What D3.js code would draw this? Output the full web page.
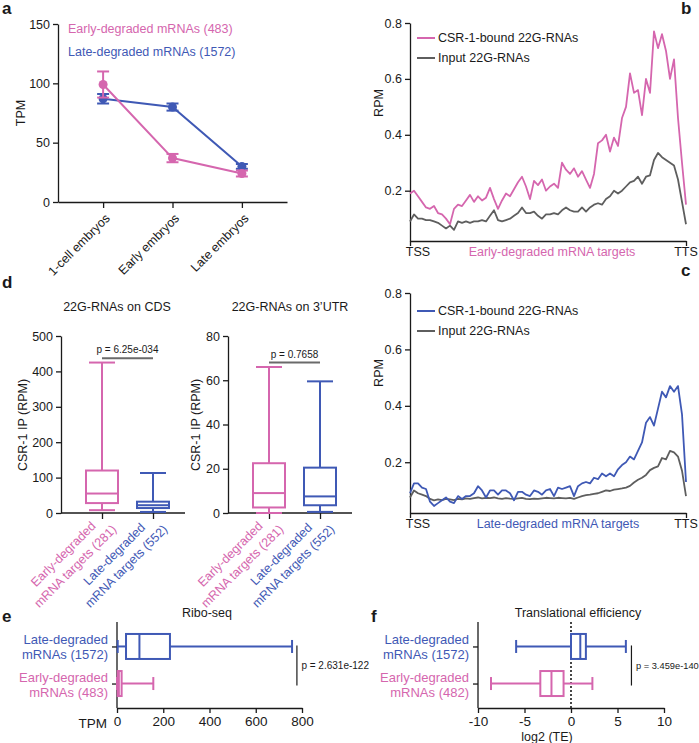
<!DOCTYPE html>
<html>
<head>
<meta charset="utf-8">
<script src="https://cdn.jsdelivr.net/npm/d3@7"></script>
<style>
  body { margin: 0; background: #fff; }
  svg { display: block; font-family: "Liberation Sans", Arial, sans-serif; }
</style>
</head>
<body>
<div id="chart"></div>
<script>
// ---- data ----
const stages = ["1-cell embryos", "Early embryos", "Late embryos"];
const earlyTPM = [99, 37, 24];
const earlyTPMErr = [11, 3.5, 2.5];
const lateTPM = [87, 80, 30];
const lateTPMErr = [4, 3, 2];

// metagene profiles TSS -> TTS (70 bins)
const earlyCSR = [0.19, 0.20, 0.18, 0.16, 0.14, 0.135, 0.145, 0.12, 0.115, 0.10,
  0.08, 0.135, 0.15, 0.145, 0.165, 0.185, 0.16, 0.18, 0.165, 0.175,
  0.21, 0.17, 0.135, 0.165, 0.19, 0.18, 0.205, 0.23, 0.25, 0.215,
  0.17, 0.235, 0.22, 0.24, 0.20, 0.215, 0.225, 0.21, 0.30, 0.275,
  0.26, 0.28, 0.25, 0.27, 0.24, 0.21, 0.26, 0.37, 0.38, 0.40,
  0.34, 0.39, 0.36, 0.46, 0.50, 0.62, 0.55, 0.56, 0.47, 0.60,
  0.55, 0.77, 0.71, 0.76, 0.70, 0.60, 0.67, 0.46, 0.30, 0.15];
const earlyInput = [0.09, 0.115, 0.10, 0.10, 0.095, 0.095, 0.09, 0.085, 0.075, 0.065,
  0.075, 0.06, 0.09, 0.085, 0.09, 0.085, 0.09, 0.09, 0.095, 0.09,
  0.11, 0.13, 0.095, 0.09, 0.095, 0.10, 0.11, 0.12, 0.14, 0.12,
  0.12, 0.125, 0.11, 0.10, 0.115, 0.115, 0.12, 0.115, 0.13, 0.14,
  0.13, 0.125, 0.125, 0.14, 0.125, 0.14, 0.15, 0.155, 0.15, 0.17,
  0.18, 0.20, 0.19, 0.20, 0.215, 0.23, 0.235, 0.25, 0.225, 0.25,
  0.255, 0.31, 0.335, 0.32, 0.31, 0.30, 0.29, 0.24, 0.16, 0.08];
const lateCSR = [0.09, 0.125, 0.125, 0.11, 0.105, 0.06, 0.045, 0.055, 0.065, 0.075,
  0.06, 0.055, 0.08, 0.07, 0.08, 0.08, 0.09, 0.115, 0.10, 0.075,
  0.10, 0.10, 0.085, 0.10, 0.10, 0.09, 0.065, 0.095, 0.095, 0.085,
  0.08, 0.10, 0.095, 0.085, 0.10, 0.105, 0.08, 0.11, 0.105, 0.11,
  0.115, 0.08, 0.115, 0.125, 0.13, 0.125, 0.145, 0.14, 0.16, 0.15,
  0.16, 0.15, 0.175, 0.19, 0.20, 0.22, 0.21, 0.24, 0.27, 0.34,
  0.36, 0.33, 0.39, 0.45, 0.43, 0.47, 0.45, 0.47, 0.37, 0.13];
const lateInput = [0.075, 0.10, 0.09, 0.085, 0.08, 0.07, 0.065, 0.068, 0.066, 0.07,
  0.068, 0.066, 0.07, 0.068, 0.072, 0.07, 0.073, 0.075, 0.072, 0.074,
  0.073, 0.075, 0.072, 0.07, 0.073, 0.071, 0.07, 0.072, 0.074, 0.07,
  0.069, 0.071, 0.07, 0.072, 0.074, 0.073, 0.072, 0.074, 0.073, 0.072,
  0.074, 0.07, 0.075, 0.08, 0.083, 0.085, 0.088, 0.09, 0.095, 0.10,
  0.098, 0.103, 0.105, 0.107, 0.11, 0.116, 0.128, 0.138, 0.145, 0.155,
  0.172, 0.18, 0.185, 0.215, 0.21, 0.24, 0.235, 0.22, 0.17, 0.08];

// box stats: [min, q1, median, q3, max]
const targetGroups = ["early", "late"];
const targetLabels = [["Early-degraded", "mRNA targets (281)"], ["Late-degraded", "mRNA targets (552)"]];
const cdsBoxes = [[8, 28, 55, 120, 425], [3, 14, 22, 32, 113]];
const utrBoxes = [[0, 2.5, 9, 22.5, 66], [0.5, 3.5, 7.5, 20.5, 59.5]];

const rowGroups = ["late", "early"];
const riboLabels = [["Late-degraded", "mRNAs (1572)"], ["Early-degraded", "mRNAs (483)"]];
const riboBoxes = [[3, 39, 97, 229, 757], [0, 3, 8, 20, 157]];
const teLabels = [["Late-degraded", "mRNAs (1572)"], ["Early-degraded", "mRNAs (482)"]];
const teBoxes = [[-5.9, 0, 1, 1.6, 5.9], [-8.6, -3.3, -2.1, -0.8, 2.3]];

// ---- drawing ----
const pink = "#d566ae", blue = "#3f59b5", grey = "#5e5e5e", ink = "#1a1a1a";
const groupColor = { early: pink, late: blue };
const svg = d3.select("#chart").append("svg").attr("width", 699).attr("height", 743);
svg.append("rect").attr("width", 699).attr("height", 743).attr("fill", "#fff");

function tidy(g, size) {
  g.attr("font-family", null).attr("font-size", null);
  g.selectAll(".domain, .tick line").attr("stroke", ink).attr("stroke-width", 1.3);
  g.selectAll(".tick text").attr("fill", ink).attr("font-size", size || 12.5);
}

function label(x, y, t, opts = {}) {
  return svg.append("text").attr("x", x).attr("y", y)
    .attr("font-size", opts.size || 12.5)
    .attr("fill", opts.color || ink)
    .attr("text-anchor", opts.anchor || "start")
    .attr("font-weight", opts.bold ? "bold" : null)
    .text(t);
}

function vLabel(x, y, t) {
  svg.append("text").attr("transform", `translate(${x},${y}) rotate(-90)`)
    .attr("text-anchor", "middle").attr("font-size", 12.5).attr("fill", ink).text(t);
}

// panel letters
[["a", 2, 14], ["b", 681, 14], ["c", 681, 276], ["d", 2, 288], ["e", 2, 622], ["f", 371, 622]]
  .forEach(([t, x, y]) => label(x, y, t, { size: 17, bold: true }));

// ---------- a ----------
const ax = d3.scalePoint().domain(stages).range([58, 287]).padding(0.65);
const ay = d3.scaleLinear().domain([0, 150]).range([202, 24]);
svg.append("g").attr("transform", "translate(58,0)")
  .call(d3.axisLeft(ay).tickValues([0, 50, 100, 150]).tickSize(5).tickSizeOuter(0)).call(tidy);
svg.append("g").attr("transform", "translate(0,202)")
  .call(d3.axisBottom(ax).tickSize(6).tickSizeOuter(0)).call(tidy)
  .selectAll(".tick text").attr("x", null).attr("y", null).attr("dy", null)
  .attr("text-anchor", "end").attr("transform", "translate(7,17) rotate(-45)");
vLabel(25, 113, "TPM");

const aSeries = [
  { name: "Late-degraded mRNAs (1572)", color: blue, mean: lateTPM, err: lateTPMErr },
  { name: "Early-degraded mRNAs (483)", color: pink, mean: earlyTPM, err: earlyTPMErr }
];
aSeries.forEach(s => {
  const g = svg.append("g");
  g.append("path").datum(s.mean)
    .attr("d", d3.line().x((d, i) => ax(stages[i])).y(d => ay(d)))
    .attr("fill", "none").attr("stroke", s.color).attr("stroke-width", 2);
  s.mean.forEach((m, i) => {
    const cx = ax(stages[i]);
    g.append("line").attr("x1", cx).attr("x2", cx)
      .attr("y1", ay(m - s.err[i])).attr("y2", ay(m + s.err[i]))
      .attr("stroke", s.color).attr("stroke-width", 2);
    [m - s.err[i], m + s.err[i]].forEach(v => g.append("line")
      .attr("x1", cx - 6).attr("x2", cx + 6).attr("y1", ay(v)).attr("y2", ay(v))
      .attr("stroke", s.color).attr("stroke-width", 2));
    g.append("circle").attr("cx", cx).attr("cy", ay(m)).attr("r", 4.5).attr("fill", s.color);
  });
});
label(68, 33, "Early-degraded mRNAs (483)", { color: pink });
label(68, 56, "Late-degraded mRNAs (1572)", { color: blue });

// ---------- b & c ----------
function profilePanel(cfg) {
  const n = cfg.csr.length;
  const x = d3.scaleLinear().domain([0, n - 1]).range([410, 686]);
  const y = d3.scaleLinear().domain([0.02, 0.8]).range([cfg.bottom, cfg.top]);
  svg.append("g").attr("transform", "translate(410,0)")
    .call(d3.axisLeft(y).tickValues([0.2, 0.4, 0.6, 0.8]).tickFormat(d3.format(".1f")).tickSize(5).tickSizeOuter(0))
    .call(tidy);
  svg.append("g").attr("transform", `translate(0,${cfg.bottom})`)
    .call(d3.axisBottom(x).tickValues([0, n - 1]).tickFormat("").tickSize(5).tickSizeOuter(0))
    .call(tidy);
  const line = d3.line().x((d, i) => x(i)).y(d => y(d));
  svg.append("path").datum(cfg.input).attr("d", line)
    .attr("fill", "none").attr("stroke", grey).attr("stroke-width", 1.8).attr("stroke-linejoin", "round");
  svg.append("path").datum(cfg.csr).attr("d", line)
    .attr("fill", "none").attr("stroke", cfg.color).attr("stroke-width", 1.8).attr("stroke-linejoin", "round");
  const ly0 = cfg.bottom + 15;
  label(x(0) + 8, ly0, "TSS", { anchor: "middle" });
  label(x(n - 1), ly0, "TTS", { anchor: "middle" });
  label(cfg.midX, ly0, cfg.target, { anchor: "middle", color: cfg.color });
  vLabel(383, cfg.top + 80, "RPM");
  [[cfg.color, "CSR-1-bound 22G-RNAs"], [grey, "Input 22G-RNAs"]].forEach(([c, t], i) => {
    const ly = cfg.legendY + i * 20;
    svg.append("line").attr("x1", 417).attr("x2", 435).attr("y1", ly).attr("y2", ly)
      .attr("stroke", c).attr("stroke-width", 2);
    label(438, ly + 4, t);
  });
}
profilePanel({ csr: earlyCSR, input: earlyInput, color: pink, top: 23, bottom: 241,
  target: "Early-degraded mRNA targets", midX: 552, legendY: 38 });
profilePanel({ csr: lateCSR, input: lateInput, color: blue, top: 293, bottom: 513,
  target: "Late-degraded mRNA targets", midX: 558, legendY: 311 });

// ---------- d ----------
function boxPanelV(cfg) {
  const x = d3.scalePoint().domain(targetGroups).range([cfg.x0 + 41, cfg.x0 + 92]);
  const y = d3.scaleLinear().domain([0, cfg.max]).range([513, 336]);
  svg.append("g").attr("transform", `translate(${cfg.x0},0)`)
    .call(d3.axisLeft(y).ticks(5).tickSize(5).tickSizeOuter(0)).call(tidy);
  const gx = svg.append("g").attr("transform", "translate(0,513)")
    .call(d3.axisBottom(x).tickSize(6).tickSizeOuter(0).tickFormat("")).call(tidy);
  gx.select(".domain").attr("d", `M${cfg.x0},0H${cfg.x0 + 124}`);
  const bw = 32;
  cfg.boxes.forEach((b, i) => {
    const cx = x(targetGroups[i]), c = groupColor[targetGroups[i]];
    const g = svg.append("g").attr("stroke", c).attr("stroke-width", 2).attr("fill", "none");
    g.append("line").attr("x1", cx).attr("x2", cx).attr("y1", y(b[0])).attr("y2", y(b[1]));
    g.append("line").attr("x1", cx).attr("x2", cx).attr("y1", y(b[3])).attr("y2", y(b[4]));
    [b[0], b[4]].forEach(v => g.append("line").attr("x1", cx - 13).attr("x2", cx + 13)
      .attr("y1", y(v)).attr("y2", y(v)));
    g.append("rect").attr("x", cx - bw / 2).attr("width", bw)
      .attr("y", y(b[3])).attr("height", y(b[1]) - y(b[3]));
    g.append("line").attr("x1", cx - bw / 2).attr("x2", cx + bw / 2)
      .attr("y1", y(b[2])).attr("y2", y(b[2]));
    const t = svg.append("text").attr("transform", `translate(${cx - 33},560) rotate(-45)`)
      .attr("text-anchor", "middle").attr("font-size", 12.5).attr("fill", c);
    t.append("tspan").attr("x", 0).attr("y", -4).text(targetLabels[i][0]);
    t.append("tspan").attr("x", 0).attr("y", 13).text(targetLabels[i][1]);
  });
  label(cfg.titleX, 311, cfg.title, { anchor: "middle" });
  vLabel(cfg.x0 - cfg.ylOff, 425, "CSR-1 IP (RPM)");
  const x1 = x(targetGroups[0]), x2 = x(targetGroups[1]);
  svg.append("line").attr("x1", x1).attr("x2", x2).attr("y1", y(cfg.sigAt)).attr("y2", y(cfg.sigAt))
    .attr("stroke", "#6a6a6a").attr("stroke-width", 2);
  label((x1 + x2) / 2, y(cfg.sigAt) - 5, cfg.p, { anchor: "middle", size: 10 });
}
boxPanelV({ x0: 61, max: 500, boxes: cdsBoxes, title: "22G-RNAs on CDS", titleX: 117,
  ylOff: 34, sigAt: 437, p: "p = 6.25e-034" });
boxPanelV({ x0: 228, max: 80, boxes: utrBoxes, title: "22G-RNAs on 3\u2019UTR", titleX: 290,
  ylOff: 28, sigAt: 68, p: "p = 0.7658" });

// ---------- e & f ----------
function boxPanelH(cfg) {
  const x = d3.scaleLinear().domain(cfg.domain).range([cfg.x0, cfg.x1]);
  const y = d3.scalePoint().domain(rowGroups).range([622, 708]).padding(0.66);
  svg.append("g").attr("transform", `translate(0,708)`)
    .call(d3.axisBottom(x).tickValues(cfg.ticks).tickFormat(d => String(d)).tickSize(5).tickSizeOuter(0))
    .call(g => tidy(g, 13.5));
  svg.append("g").attr("transform", `translate(${cfg.x0},0)`)
    .call(d3.axisLeft(y).tickSize(5).tickSizeOuter(0).tickFormat("")).call(tidy)
    .select(".domain").attr("d", "M0,622V708");
  if (cfg.zeroLine) {
    svg.append("line").attr("x1", x(0)).attr("x2", x(0)).attr("y1", 622).attr("y2", 708)
      .attr("stroke", ink).attr("stroke-width", 1.6).attr("stroke-dasharray", "2,2");
  }
  const bh = 25;
  cfg.boxes.forEach((b, i) => {
    const cy = y(rowGroups[i]), c = groupColor[rowGroups[i]];
    const g = svg.append("g").attr("stroke", c).attr("stroke-width", 2).attr("fill", "none");
    g.append("line").attr("y1", cy).attr("y2", cy).attr("x1", x(b[0])).attr("x2", x(b[1]));
    g.append("line").attr("y1", cy).attr("y2", cy).attr("x1", x(b[3])).attr("x2", x(b[4]));
    [b[0], b[4]].forEach(v => g.append("line").attr("y1", cy - 6.5).attr("y2", cy + 6.5)
      .attr("x1", x(v)).attr("x2", x(v)));
    g.append("rect").attr("y", cy - bh / 2).attr("height", bh)
      .attr("x", x(b[1])).attr("width", Math.max(1, x(b[3]) - x(b[1])));
    g.append("line").attr("y1", cy - bh / 2).attr("y2", cy + bh / 2)
      .attr("x1", x(b[2])).attr("x2", x(b[2]));
    label(cfg.x0 - 9, cy - 2, cfg.labels[i][0], { anchor: "end", color: c, size: 13 });
    label(cfg.x0 - 9, cy + 13, cfg.labels[i][1], { anchor: "end", color: c, size: 13 });
  });
  label(cfg.titleX, 617, cfg.title, { anchor: "middle" });
  const px = x(cfg.sigAt);
  svg.append("line").attr("x1", px).attr("x2", px).attr("y1", y("late") - 1).attr("y2", y("early") + 2)
    .attr("stroke", ink).attr("stroke-width", 1.2);
  label(px + 4.5, 669, cfg.p, { size: cfg.pSize });
}
boxPanelH({ x0: 117, x1: 302, domain: [0, 800], ticks: [0, 200, 400, 600, 800], boxes: riboBoxes,
  labels: riboLabels, title: "Ribo-seq", titleX: 207, sigAt: 778, p: "p = 2.631e-122", pSize: 10 });
label(107, 728, "TPM", { anchor: "end", size: 13.5 });
boxPanelH({ x0: 478, x1: 664, domain: [-10, 10], ticks: [-10, -5, 0, 5, 10], boxes: teBoxes,
  labels: teLabels, title: "Translational efficiency", titleX: 578, sigAt: 6.5, p: "p = 3.459e-140",
  pSize: 9.3, zeroLine: true });
label(547, 741, "log2 (TE)", { anchor: "middle" });
</script>
</body>
</html>
